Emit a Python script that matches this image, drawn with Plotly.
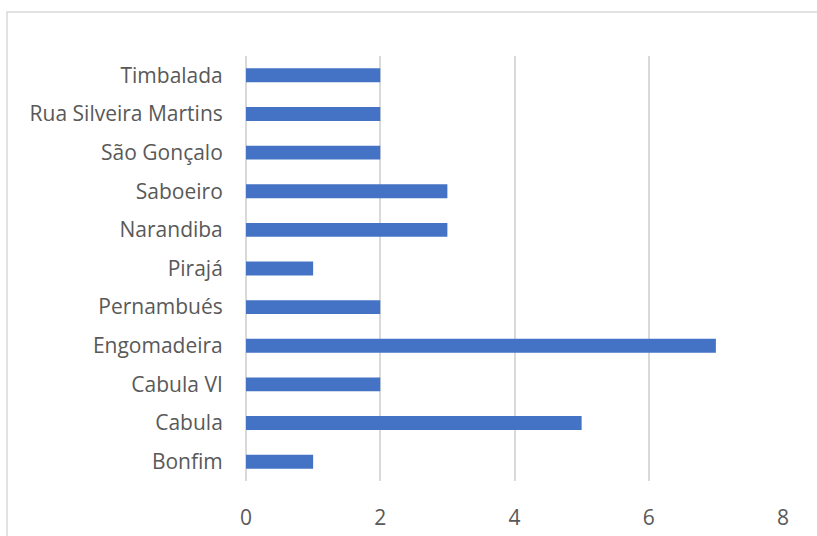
import plotly.graph_objects as go

categories = ["Bonfim", "Cabula", "Cabula VI", "Engomadeira", "Pernambués", "Pirajá",
              "Narandiba", "Saboeiro", "São Gonçalo", "Rua Silveira Martins", "Timbalada"]
values = [1, 5, 2, 7, 2, 1, 3, 3, 2, 2, 2]
x_ticks = [0, 2, 4, 6, 8]

W, H = 817, 536
L, R, T, B = 246, 34, 56, 55
pw, ph = W - L - R, H - T - B

def px_x(p):
    return (p - L) / pw

def px_y(p):
    return (H - B - p) / ph

FONT = "Open Sans, Lato, sans-serif"
FS = 21

fig = go.Figure(go.Bar(
    x=values, y=categories, orientation="h",
    marker=dict(color="#4472C4", line=dict(width=0)),
    width=0.36,
))

fig.update_layout(
    width=W, height=H,
    margin=dict(l=L, r=R, t=T, b=B, autoexpand=False),
    paper_bgcolor="white", plot_bgcolor="white",
    showlegend=False,
    font=dict(family=FONT, size=FS, color="#595959"),
    xaxis=dict(range=[0, 8], tickvals=x_ticks, showgrid=True, gridcolor="#d9d9d9",
               gridwidth=1.5, zeroline=True, zerolinecolor="#d9d9d9", zerolinewidth=1.5,
               showline=False, ticks="outside", ticklen=18, tickcolor="rgba(0,0,0,0)",
               tickfont=dict(family=FONT, size=FS, color="#595959"), fixedrange=True,
               automargin=False),
    yaxis=dict(categoryorder="array", categoryarray=categories, showgrid=False,
               zeroline=False, showline=False, ticks="outside", ticklen=18,
               tickcolor="rgba(0,0,0,0)", tickfont=dict(family=FONT, size=FS, color="#595959"),
               range=[-0.5, len(categories) - 0.5], fixedrange=True, automargin=False),
    shapes=[dict(type="rect", xref="paper", yref="paper",
                 x0=px_x(7), x1=px_x(830), y0=px_y(560), y1=px_y(12),
                 line=dict(color="#d9d9d9", width=1.5), fillcolor="rgba(0,0,0,0)",
                 layer="below")],
)

fig.write_html("out.html")
